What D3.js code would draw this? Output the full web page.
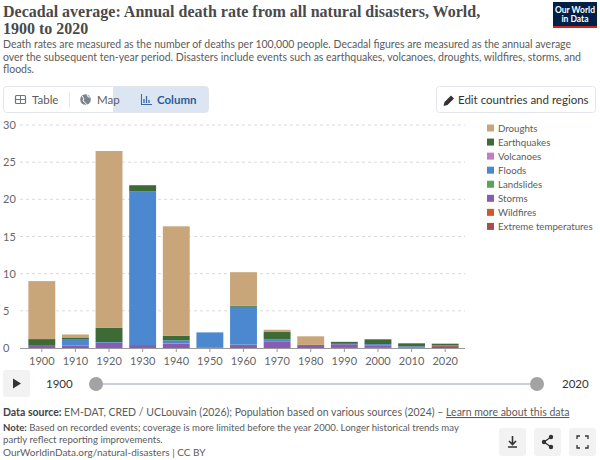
<!DOCTYPE html>
<html>
<head>
<meta charset="utf-8">
<script src="https://cdn.jsdelivr.net/npm/d3@7"></script>
<style>
  body { margin: 0; background: #fff; font-family: Lato, "Noto Sans", sans-serif; }
  svg text { font-family: Lato, "Noto Sans", sans-serif; }
</style>
</head>
<body>
<div id="chart"></div>
<script>
// decades on the x axis
const decades = ["1900","1910","1920","1930","1940","1950","1960","1970","1980","1990","2000","2010","2020"];

// series, in legend order (top of stack first)
const seriesNames = ["Droughts","Earthquakes","Volcanoes","Floods","Landslides","Storms","Wildfires","Extreme temperatures"];
const seriesColors = ["#c9a57a","#3e6b35","#c27ec4","#4c88d0","#58a556","#8a5cb0","#d0582e","#a34d57"];

// deaths per 100,000
const droughts    = [7.8, 0.4, 23.8, 0,    14.7, 0,    4.5,  0.3,  1.15, 0,    0,    0,    0];
const earthquakes = [0.9, 0.3, 1.9,  0.8,  0.65, 0,    0.15, 1.0,  0.12, 0.27, 0.65, 0.4,  0.25];
const volcanoes   = [0,   0,   0,    0,    0,    0,    0,    0,    0,    0,    0,    0,    0];
const floods      = [0,   0.75,0.1,  20.7, 0.4,  2.0,  5.1,  0.25, 0,    0.05, 0.15, 0.1,  0.05];
const landslides  = [0,   0.02,0,    0,    0.02, 0,    0.05, 0,    0,    0,    0,    0,    0];
const storms      = [0.3, 0.35,0.7,  0.4,  0.6,  0.1,  0.4,  0.9,  0.3,  0.5,  0.35, 0.05, 0.03];
const wildfires   = [0,   0,   0,    0,    0,    0,    0,    0,    0,    0,    0,    0,    0];
const extremeTemp = [0,   0,   0,    0,    0,    0,    0,    0,    0,    0.01, 0.02, 0.08, 0.25];

const yTicks = [0, 5, 10, 15, 20, 25, 30];

const width = 600, height = 460;
const svg = d3.select("#chart").append("svg")
  .attr("width", width)
  .attr("height", height);

// ---- header
const titleLines = ["Decadal average: Annual death rate from all natural disasters, World,", "1900 to 2020"];
svg.append("g").selectAll("text").data(titleLines).join("text")
  .attr("x", 3).attr("y", (d, i) => 16.5 + i * 17)
  .style("font-family", "'Liberation Serif', serif").style("font-size", "16px")
  .style("font-weight", "bold").attr("fill", "#4a4a4a")
  .text(d => d);

const subtitle = [
  "Death rates are measured as the number of deaths per 100,000 people. Decadal figures are measured as the annual average",
  "over the subsequent ten-year period. Disasters include events such as earthquakes, volcanoes, droughts, wildfires, storms, and",
  "floods."
];
svg.append("g").selectAll("text").data(subtitle).join("text")
  .attr("x", 3).attr("y", (d, i) => 48 + i * 12.5)
  .style("font-size", "10.5px").attr("fill", "#5b5b5b")
  .text(d => d);

// logo
const logo = svg.append("g").attr("transform", "translate(553,2)");
logo.append("rect").attr("width", 44).attr("height", 25).attr("fill", "#002147");
logo.append("rect").attr("y", 24).attr("width", 44).attr("height", 2).attr("fill", "#ce261e");
logo.append("text").attr("x", 22).attr("y", 10.5).attr("text-anchor", "middle")
  .style("font-size", "8.5px").style("font-weight", "bold").attr("fill", "#fff").text("Our World");
logo.append("text").attr("x", 22).attr("y", 20).attr("text-anchor", "middle")
  .style("font-size", "8.5px").style("font-weight", "bold").attr("fill", "#fff").text("in Data");

// tabs
const tabs = svg.append("g");
tabs.append("rect").attr("x", 3.5).attr("y", 86.5).attr("width", 205).attr("height", 26)
  .attr("rx", 3).attr("fill", "#fff").attr("stroke", "#e2e5ea");
tabs.append("rect").attr("x", 113).attr("y", 87).attr("width", 95).attr("height", 25)
  .attr("fill", "#dce6f2");
tabs.append("line").attr("x1", 69.5).attr("x2", 69.5).attr("y1", 92).attr("y2", 107).attr("stroke", "#e2e5ea");
// table icon
tabs.append("rect").attr("x", 15.5).attr("y", 95.5).attr("width", 10).attr("height", 8).attr("rx", 1)
  .attr("fill", "none").attr("stroke", "#6e7581").attr("stroke-width", 1.2);
tabs.append("line").attr("x1", 15.5).attr("x2", 25.5).attr("y1", 99.5).attr("y2", 99.5).attr("stroke", "#6e7581");
tabs.append("line").attr("x1", 20.5).attr("x2", 20.5).attr("y1", 95.5).attr("y2", 103.5).attr("stroke", "#6e7581");
tabs.append("text").attr("x", 32).attr("y", 104).style("font-size", "11.5px").attr("fill", "#5b5b5b").text("Table");
// globe icon
tabs.append("circle").attr("cx", 85.5).attr("cy", 99.5).attr("r", 5.3).attr("fill", "#7d838d");
tabs.append("path").attr("d", "M82,96 Q85,98 83,101 Q86,103 87,105 M87,95 Q88,98 90,97")
  .attr("fill", "none").attr("stroke", "#fff").attr("stroke-width", 1);
tabs.append("text").attr("x", 97).attr("y", 104).style("font-size", "11.5px").attr("fill", "#5b5b5b").text("Map");
// chart icon
tabs.append("path").attr("d", "M141.5,94 V104.5 H152").attr("fill", "none").attr("stroke", "#3a6ba8").attr("stroke-width", 1.1);
tabs.append("path").attr("d", "M144,103 V99 M146.5,103 V96 M149,103 V100").attr("stroke", "#3a6ba8").attr("stroke-width", 1.3);
tabs.append("text").attr("x", 157).attr("y", 104).style("font-size", "11.5px").style("font-weight", "bold")
  .attr("fill", "#2c5d99").text("Column");

// edit button
const edit = svg.append("g");
edit.append("rect").attr("x", 436.5).attr("y", 86.5).attr("width", 159).attr("height", 26)
  .attr("rx", 3).attr("fill", "#fff").attr("stroke", "#e2e5ea");
edit.append("path").attr("d", "M443.5,106 L444.5,102 L451,95.5 L454,98.5 L447.5,105 Z").attr("fill", "#333");
edit.append("text").attr("x", 458).attr("y", 104).style("font-size", "11.5px").attr("fill", "#333")
  .text("Edit countries and regions");

// ---- chart
const plotLeft = 25, plotRight = 462, plotTop = 125, plotBottom = 348;

const table = decades.map((d, i) => ({
  decade: d,
  "Droughts": droughts[i],
  "Earthquakes": earthquakes[i],
  "Volcanoes": volcanoes[i],
  "Floods": floods[i],
  "Landslides": landslides[i],
  "Storms": storms[i],
  "Wildfires": wildfires[i],
  "Extreme temperatures": extremeTemp[i]
}));

const x = d3.scaleBand()
  .domain(decades)
  .range([plotLeft, plotRight])
  .paddingInner(0.2)
  .paddingOuter(0.1);

const y = d3.scaleLinear()
  .domain([0, 30])
  .range([plotBottom, plotTop]);

const color = d3.scaleOrdinal().domain(seriesNames).range(seriesColors);

// gridlines
svg.append("g").selectAll("line").data(yTicks.filter(t => t > 0)).join("line")
  .attr("x1", 20).attr("x2", plotRight + 3)
  .attr("y1", d => y(d)).attr("y2", d => y(d))
  .attr("stroke", "#dadada").attr("stroke-dasharray", "3,3");

svg.append("g").selectAll("text").data(yTicks).join("text")
  .attr("x", 3).attr("y", d => y(d) + 4)
  .style("font-size", "11px").attr("fill", "#666")
  .text(d => d);

// bottom of stack = last in legend
const stack = d3.stack().keys(seriesNames.slice().reverse());
const layers = stack(table);

svg.append("g").selectAll("g").data(layers).join("g")
  .attr("fill", d => color(d.key))
  .selectAll("rect").data(d => d).join("rect")
  .attr("x", d => x(d.data.decade))
  .attr("y", d => y(d[1]))
  .attr("width", x.bandwidth())
  .attr("height", d => Math.max(0, y(d[0]) - y(d[1])));

// x axis
const xAxis = svg.append("g")
  .attr("transform", `translate(0,${plotBottom})`)
  .call(d3.axisBottom(x).tickSize(4).tickSizeOuter(0));
xAxis.select(".domain").attr("stroke", "#999").attr("d", `M${20},0.5H${plotRight + 3}`);
xAxis.selectAll(".tick line").attr("stroke", "#999");
xAxis.selectAll(".tick text").style("font-size", "11px").attr("fill", "#666")
  .style("font-family", "Lato, sans-serif").attr("dy", "0.9em");

// legend
const legend = svg.append("g").selectAll("g").data(seriesNames).join("g")
  .attr("transform", (d, i) => `translate(487,${124.5 + i * 14.06})`);
legend.append("rect").attr("width", 7).attr("height", 7).attr("fill", d => color(d));
legend.append("text").attr("x", 11).attr("y", 7.3).style("font-size", "9.7px").attr("fill", "#5b5b5b")
  .text(d => d);

// ---- timeline
const tl = svg.append("g");
tl.append("rect").attr("x", 3).attr("y", 370).attr("width", 27).attr("height", 27).attr("rx", 3).attr("fill", "#f2f2f2");
tl.append("path").attr("d", "M13,378.5 L21,383.5 L13,388.5 Z").attr("fill", "#333");
tl.append("text").attr("x", 46).attr("y", 388).style("font-size", "11.5px").attr("fill", "#333").text("1900");
tl.append("line").attr("x1", 96).attr("x2", 537).attr("y1", 384).attr("y2", 384).attr("stroke", "#b9c1cc").attr("stroke-width", 1.5);
tl.append("circle").attr("cx", 96).attr("cy", 384).attr("r", 7).attr("fill", "#a3a3a3");
tl.append("circle").attr("cx", 537).attr("cy", 384).attr("r", 7).attr("fill", "#a3a3a3");
tl.append("text").attr("x", 562).attr("y", 388).style("font-size", "11.5px").attr("fill", "#333").text("2020");

// ---- footer
const foot = svg.append("g").style("font-size", "10.5px").attr("fill", "#5b5b5b");
const src = foot.append("text").attr("x", 3).attr("y", 416);
src.append("tspan").style("font-weight", "bold").attr("fill", "#444").text("Data source: ");
src.append("tspan").text("EM-DAT, CRED / UCLouvain (2026); Population based on various sources (2024) – ");
src.append("tspan").style("text-decoration", "underline").text("Learn more about this data");
const note = foot.append("text").attr("x", 3).attr("y", 431).style("font-size", "9.6px");
note.append("tspan").style("font-weight", "bold").attr("fill", "#444").text("Note: ");
note.append("tspan").text("Based on recorded events; coverage is more limited before the year 2000. Longer historical trends may");
foot.append("text").attr("x", 3).attr("y", 443).style("font-size", "9.6px").text("partly reflect reporting improvements.");
foot.append("text").attr("x", 3).attr("y", 456).style("font-size", "10px").text("OurWorldinData.org/natural-disasters | CC BY");

// buttons
const btns = svg.append("g");
[499, 534, 569].forEach(bx => {
  btns.append("rect").attr("x", bx).attr("y", 428).attr("width", 27).attr("height", 28).attr("rx", 3).attr("fill", "#f2f2f2");
});
btns.append("path").attr("d", "M512.5,436 V444 M509,441 L512.5,444.5 L516,441 M508,447 H517").attr("stroke", "#333").attr("stroke-width", 1.6).attr("fill", "none");
btns.append("path").attr("d", "M551,437 L544,442 L551,447").attr("stroke", "#333").attr("stroke-width", 1.3).attr("fill", "none");
[[551,437],[544,442],[551,447]].forEach(p => btns.append("circle").attr("cx", p[0]).attr("cy", p[1]).attr("r", 2.2).attr("fill", "#333"));
btns.append("path").attr("d", "M577,439 V436 H580 M585,436 H588 V439 M588,445 V448 H585 M580,448 H577 V445")
  .attr("stroke", "#333").attr("stroke-width", 1.3).attr("fill", "none");
</script>
</body>
</html>
